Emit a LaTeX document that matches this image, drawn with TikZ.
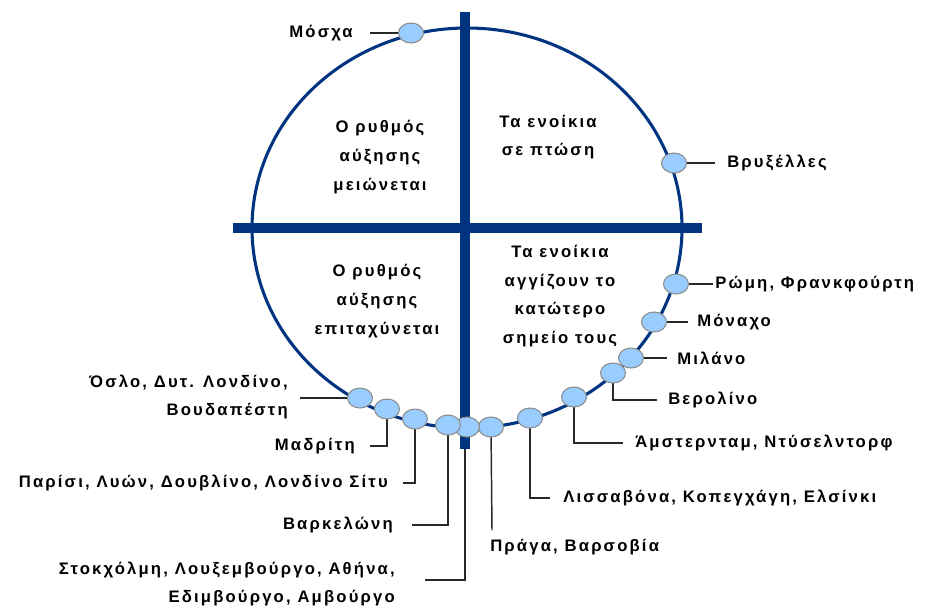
\documentclass[tikz,border=0pt]{standalone}
\usepackage{fontspec}
\setmainfont{Liberation Sans}[LetterSpace=13]
\usetikzlibrary{shapes.geometric}
\definecolor{navy}{RGB}{0,51,128}
\definecolor{dotblue}{RGB}{153,204,255}
\definecolor{dotedge}{RGB}{140,140,140}
\definecolor{leader}{RGB}{40,40,40}
\tikzset{
  lbl/.style={font=\fontsize{12.5}{21.5}\selectfont\bfseries, inner sep=0pt, text=black},
  quad/.style={lbl, align=center},
  citydot/.style={ellipse, draw=dotedge, fill=dotblue, line width=0.8pt, minimum width=18.75pt, minimum height=15pt, inner sep=0pt},
  leaderline/.style={draw=leader, line width=1.1pt},
  bar/.style={draw=navy, line width=8pt},
}
\begin{document}
\begin{tikzpicture}[x=0.75pt, y=-0.75pt]
\useasboundingbox (0,0) rectangle (926,608);
% circle
\node[ellipse, draw=navy, line width=2.3pt, minimum width=322.5pt, minimum height=300pt, inner sep=0pt] (ring) at (467,228) {};
% bars
\coordinate (hl) at (233,228);
\coordinate (hr) at (702,228);
\coordinate (vt) at (465,12);
\coordinate (vb) at (465,449);
\draw[bar] (hl) -- (hr);
\draw[bar] (vt) -- (vb);
% quadrant texts
\node[quad] (q1) at (380,157) {Ο ρυθμός\\αύξησης\\μειώνεται};
\node[quad] (q2) at (548,137) {Τα ενοίκια\\σε πτώση};
\node[quad] (q3) at (377,301) {Ο ρυθμός\\αύξησης\\επιταχύνεται};
\node[quad] (q4) at (560,296) {Τα ενοίκια\\αγγίζουν το\\κατώτερο\\σημείο τους};
% labels
\node[lbl, anchor=east] (tmos) at (353,33) {Μόσχα};
\node[lbl, anchor=west] (tbru) at (727,163) {Βρυξέλλες};
\node[lbl, anchor=west] (trom) at (715,284) {Ρώμη, Φρανκφούρτη};
\node[lbl, anchor=west] (tmun) at (697,322) {Μόναχο};
\node[lbl, anchor=west] (tmil) at (677,358) {Μιλάνο};
\node[lbl, anchor=west] (tber) at (668,400) {Βερολίνο};
\node[lbl, anchor=west] (tams) at (635,443) {Άμστερνταμ, Ντύσελντορφ};
\node[lbl, anchor=west] (tlis) at (563,498) {Λισσαβόνα, Κοπεγχάγη, Ελσίνκι};
\node[lbl, anchor=west] (tpra) at (490,547) {Πράγα, Βαρσοβία};
\node[lbl, anchor=east, align=right] (tsto) at (395,584) {Στοκχόλμη, Λουξεμβούργο, Αθήνα,\\Εδιμβούργο, Αμβούργο};
\node[lbl, anchor=east] (tbar) at (393,525) {Βαρκελώνη};
\node[lbl, anchor=east] (tpar) at (388,483) {Παρίσι, Λυών, Δουβλίνο, Λονδίνο Σίτυ};
\node[lbl, anchor=east] (tmad) at (355,446) {Μαδρίτη};
\node[lbl, anchor=east, align=right] (tosl) at (288,397) {Όσλο, Δυτ. Λονδίνο,\\Βουδαπέστη};
% leader end points
\coordinate (emos) at (370,33);
\coordinate (ebru) at (715,163);
\coordinate (erom) at (713,284);
\coordinate (emun) at (688,322);
\coordinate (emil) at (667,358);
\coordinate (eber) at (657,400);
\coordinate (eams) at (623,443);
\coordinate (elis) at (550,498);
\coordinate (epra) at (492,530);
\coordinate (esto) at (425,580);
\coordinate (ebar) at (412,525);
\coordinate (epar) at (403,483);
\coordinate (emad) at (370,446);
\coordinate (eosl) at (300,398);
% dots positions
\coordinate (pmos) at (411,33);
\coordinate (pbru) at (674,163);
\coordinate (prom) at (676,284);
\coordinate (pmun) at (654,322);
\coordinate (pmil) at (631,358);
\coordinate (pber) at (613,373);
\coordinate (pams) at (574,397);
\coordinate (plis) at (530,418);
\coordinate (ppra) at (491,427);
\coordinate (psto) at (467,427);
\coordinate (pbar) at (448,425);
\coordinate (ppar) at (415,419);
\coordinate (pmad) at (387,409);
\coordinate (posl) at (360,398);
% leaders
\draw[leaderline] (pmos) -- (emos);
\draw[leaderline] (pbru) -- (ebru);
\draw[leaderline] (prom) -- (erom);
\draw[leaderline] (pmun) -- (emun);
\draw[leaderline] (pmil) -- (emil);
\draw[leaderline] (pber) |- (eber);
\draw[leaderline] (pams) |- (eams);
\draw[leaderline] (plis) |- (elis);
\draw[leaderline] (ppra) -- (epra);
\draw[leaderline] (vb) |- (esto);
\draw[leaderline] (pbar) |- (ebar);
\draw[leaderline] (ppar) |- (epar);
\draw[leaderline] (pmad) |- (emad);
\draw[leaderline] (posl) -- (eosl);
% dots
\foreach \c in {mos,bru,rom,mun,mil,ber,ams,lis,pra,sto,bar,par,mad,osl}
  \node[citydot] (d\c) at (p\c) {};
\end{tikzpicture}
\end{document}
